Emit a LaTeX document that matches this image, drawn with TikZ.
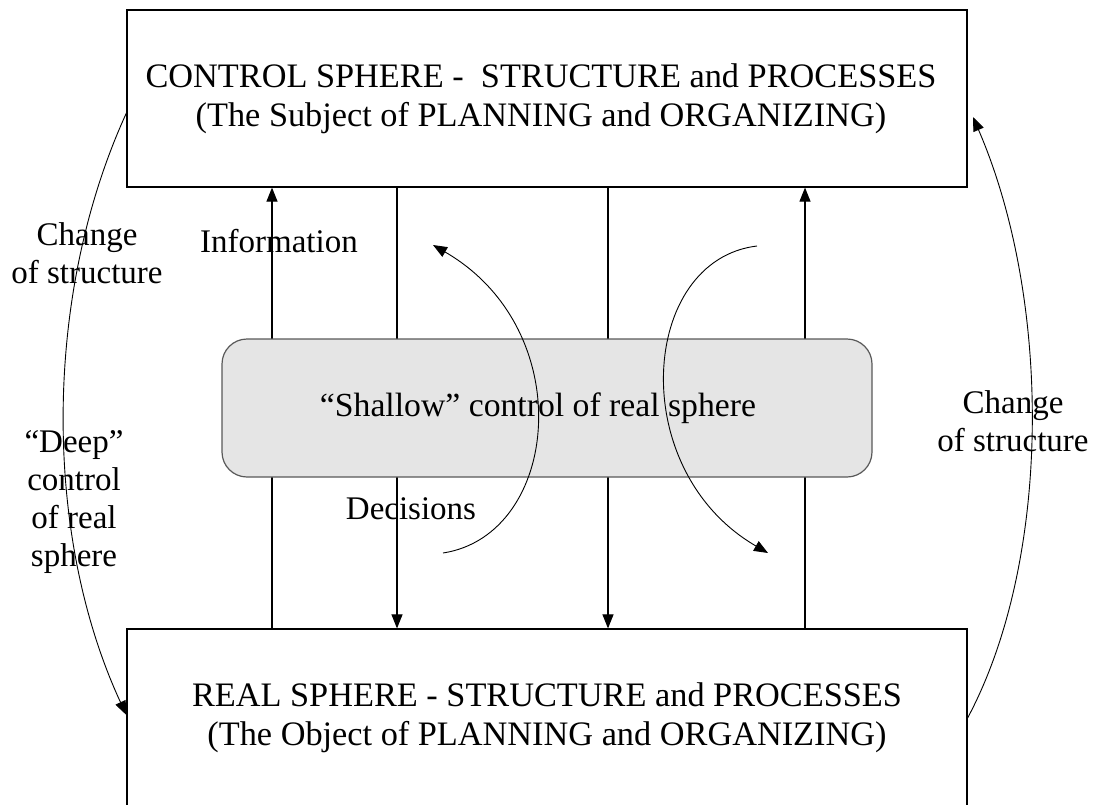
\documentclass[tikz,border=0pt]{standalone}
\usepackage{fontspec}
\setmainfont{Liberation Serif}
\usetikzlibrary{arrows.meta}
\begin{document}
\begin{tikzpicture}[x=1pt,y=-1pt,
  txt/.style={font=\fontsize{33}{38}\selectfont, align=center, inner sep=0pt},
  sphere/.style={draw=black, line width=1.2pt, fill=white, minimum width=840pt,
    minimum height=177pt, font=\fontsize{34.3}{39.5}\selectfont, align=center},
  shallow/.style={draw=black!65, line width=1.2pt, fill=black!10, rounded corners=25pt,
    minimum width=650pt, minimum height=138pt, font=\fontsize{33.7}{38}\selectfont},
  flow/.style={line width=1.1pt, -{Triangle[length=14pt,width=11pt]}},
  curvearr/.style={line width=0.9pt, -{Triangle[length=14pt,width=11pt]}}
]
\useasboundingbox (0,0) rectangle (1096,804);

% the two spheres
\node[sphere] (ctrl) at (547,98.5)
  {CONTROL SPHERE -\ \ STRUCTURE and PROCESSES\hspace*{12pt}\\(The Subject of PLANNING and ORGANIZING)\hspace*{12pt}};
\node[sphere] (real) at (547,717.5)
  {REAL SPHERE - STRUCTURE and PROCESSES\\(The Object of PLANNING and ORGANIZING)};

% vertical flows of information (up) and decisions (down)
\coordinate (v1) at (272,0);
\coordinate (v2) at (397,0);
\coordinate (v3) at (608,0);
\coordinate (v4) at (805,0);
\draw[flow] (real.north -| v1) -- (ctrl.south -| v1);
\draw[flow] (ctrl.south -| v2) -- (real.north -| v2);
\draw[flow] (ctrl.south -| v3) -- (real.north -| v3);
\draw[flow] (real.north -| v4) -- (ctrl.south -| v4);

% shallow control box sits over the flows
\node[shallow] (mid) at (547,408) {“Shallow” control of real sphere\hspace*{18pt}};

% circulating arrows through the shallow control
\coordinate (c1s) at (443,553);
\coordinate (c1e) at (433,245);
\coordinate (c2s) at (757,246);
\coordinate (c2e) at (768,553);
\draw[curvearr] (c1s) .. controls (560,535) and (580,330) .. (c1e);
\draw[curvearr] (c2s) .. controls (640,260) and (625,470) .. (c2e);

% deep control and structural change
\coordinate (la) at (ctrl.west |- 0,113);
\coordinate (lb) at (real.west |- 0,715);
\coordinate (ra) at (real.east |- 0,718);
\coordinate (rb) at (973,117);
\draw[curvearr] (la) .. controls (43,295) and (43,535) .. (lb);
\draw[curvearr] (ra) .. controls (1052,560) and (1052,300) .. (rb);

% labels
\node[txt] (info) at (279,241) {Information};
\node[txt] (dec) at (411,509) {Decisions};
\node[txt] (chl) at (87,253) {Change\\of structure};
\node[txt] (chr) at (1013,421) {Change\\of structure};
\node[txt] (deep) at (74,502) {“Deep”\\control\\of real\\sphere};
\end{tikzpicture}
\end{document}
